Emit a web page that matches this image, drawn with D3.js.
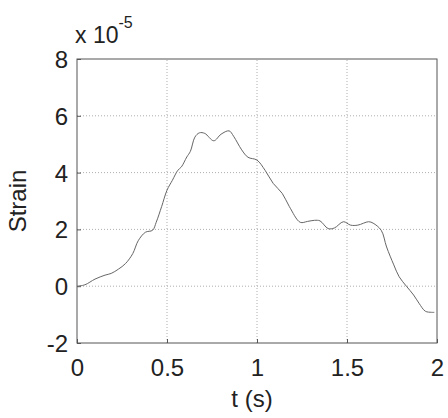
<!DOCTYPE html>
<html>
<head>
<meta charset="utf-8">
<script src="https://cdn.jsdelivr.net/npm/d3@7"></script>
<style>
  body { margin: 0; background: #fff; }
  svg text { font-family: "Liberation Sans", Arial, sans-serif; fill: #222; }
</style>
</head>
<body>
<div id="chart"></div>
<script>
// time (s) and strain (x 1e-5)
var tVals = [0, 0.044, 0.1, 0.156, 0.19, 0.23, 0.27, 0.31, 0.34, 0.38, 0.42, 0.44, 0.47, 0.5, 0.53, 0.56, 0.58, 0.61, 0.63, 0.655, 0.68, 0.71, 0.76, 0.8, 0.845, 0.87, 0.915, 0.95, 1.0, 1.045, 1.09, 1.14, 1.18, 1.24, 1.28, 1.32, 1.35, 1.395, 1.43, 1.48, 1.52, 1.56, 1.62, 1.645, 1.69, 1.72, 1.76, 1.79, 1.83, 1.87, 1.9, 1.935, 1.97, 1.985];
var strain = [0, 0.05, 0.25, 0.39, 0.45, 0.6, 0.8, 1.15, 1.6, 1.9, 1.97, 2.25, 2.8, 3.38, 3.73, 4.08, 4.2, 4.55, 4.75, 5.25, 5.4, 5.38, 5.12, 5.35, 5.47, 5.28, 4.8, 4.54, 4.44, 4.08, 3.62, 3.27, 2.8, 2.25, 2.28, 2.32, 2.3, 2.03, 2.05, 2.27, 2.15, 2.15, 2.27, 2.22, 1.97, 1.38, 0.75, 0.33, 0, -0.31, -0.6, -0.88, -0.92, -0.92];
var xTicks = [0, 0.5, 1, 1.5, 2];
var yTicks = [-2, 0, 2, 4, 6, 8];

var W = 448, H = 418;
var m = {left: 77, right: 11, top: 59, bottom: 75};

var svg = d3.select("#chart").append("svg")
  .attr("width", W).attr("height", H);

var x = d3.scaleLinear().domain([0, 2]).range([m.left, W - m.right]);
var y = d3.scaleLinear().domain([-2, 8]).range([H - m.bottom, m.top]);

// grid
svg.append("g").selectAll("line").data(xTicks.slice(1, -1)).join("line")
  .attr("x1", d => x(d)).attr("x2", d => x(d))
  .attr("y1", y(-2)).attr("y2", y(8))
  .attr("stroke", "#999").attr("stroke-width", 0.8).attr("stroke-dasharray", "1,2");
svg.append("g").selectAll("line").data(yTicks.slice(1, -1)).join("line")
  .attr("x1", x(0)).attr("x2", x(2))
  .attr("y1", d => y(d)).attr("y2", d => y(d))
  .attr("stroke", "#999").attr("stroke-width", 0.8).attr("stroke-dasharray", "1,2");

// frame
svg.append("rect")
  .attr("x", x(0)).attr("y", y(8))
  .attr("width", x(2) - x(0)).attr("height", y(-2) - y(8))
  .attr("fill", "none").attr("stroke", "#555").attr("stroke-width", 1);

var fmt = d => String(d);

// small inward ticks
var xAxis = d3.axisBottom(x).tickValues(xTicks).tickSize(-4).tickFormat(fmt).tickPadding(10);
var gx = svg.append("g").attr("transform", "translate(0," + y(-2) + ")").call(xAxis);
gx.select(".domain").remove();
gx.selectAll("line").attr("stroke", "#555");
gx.selectAll("text").style("font-size", "24px").attr("dy", "0.95em").attr("fill", "#222");

var yAxis = d3.axisLeft(y).tickValues(yTicks).tickSize(-4).tickFormat(fmt).tickPadding(9);
var gy = svg.append("g").attr("transform", "translate(" + x(0) + ",0)").call(yAxis);
gy.select(".domain").remove();
gy.selectAll("line").attr("stroke", "#555");
gy.selectAll("text").style("font-size", "24px").attr("dy", "0.35em").attr("fill", "#222");

// data line
var pts = tVals.map((t, i) => [t, strain[i]]);
svg.append("path").datum(pts)
  .attr("fill", "none").attr("stroke", "#666").attr("stroke-width", 1)
  .attr("stroke-linejoin", "round")
  .attr("d", d3.line().x(d => x(d[0])).y(d => y(d[1])).curve(d3.curveCatmullRom));

// labels
svg.append("text").attr("x", 252).attr("y", 407)
  .attr("text-anchor", "middle").style("font-size", "24px").text("t (s)");
svg.append("text").attr("transform", "translate(26," + ((y(8) + y(-2)) / 2) + ") rotate(-90)")
  .attr("text-anchor", "middle").style("font-size", "24px").text("Strain");

var mult = svg.append("text").attr("x", 75).attr("y", 43).style("font-size", "23px");
mult.append("tspan").text("x 10");
mult.append("tspan").attr("dy", -15).style("font-size", "16px").text("-5");
</script>
</body>
</html>
